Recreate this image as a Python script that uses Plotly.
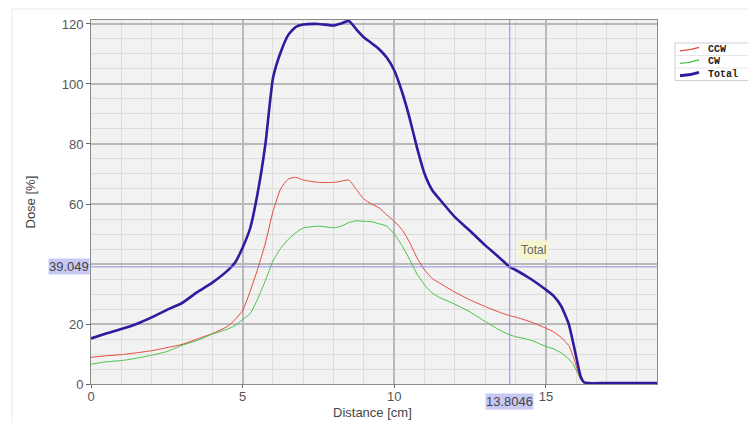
import plotly.graph_objects as go

# Depth profile sampled along the distance axis [cm]
distance = [0, 0.5, 1, 1.5, 2, 2.5, 3, 3.5, 4, 4.5, 4.75, 5, 5.25, 5.5, 5.75,
            6, 6.25, 6.5, 6.75, 7, 7.5, 8, 8.25, 8.5, 8.75, 9, 9.25, 9.5, 9.75,
            10, 10.25, 10.5, 10.75, 11, 11.25, 11.5, 12, 12.5, 13, 13.5, 13.8,
            14, 14.5, 15, 15.25, 15.5, 15.75, 15.9, 16.05, 16.15, 16.25, 16.4,
            17, 18, 18.66]

dose_total = [15.2, 16.8, 18.3, 20.0, 22.2, 24.7, 27.0, 30.6, 33.8, 37.8, 40.5,
              45.5, 52.0, 64.0, 80.0, 102.0, 110.5, 116.3, 119.0, 119.8, 120.0,
              119.5, 120.2, 121.0, 118.2, 115.5, 113.6, 111.6, 108.8, 104.5,
              97.5, 88.8, 78.7, 70.0, 64.6, 61.5, 55.6, 51.0, 46.2, 41.8, 39.0,
              38.0, 35.0, 31.4, 29.4, 26.0, 20.0, 13.6, 6.5, 2.3, 0.6, 0.3,
              0.3, 0.3, 0.3]

dose_ccw = [8.9, 9.4, 9.8, 10.4, 11.1, 12.1, 13.2, 15.0, 16.8, 19.2, 21.5,
            24.5, 31.0, 38.5, 47.0, 57.5, 65.0, 68.3, 68.9, 68.0, 67.2, 67.2,
            67.6, 68.0, 64.8, 61.6, 60.0, 58.7, 56.4, 54.2, 51.5, 47.3, 42.0,
            38.0, 35.2, 33.6, 30.6, 28.0, 25.8, 23.8, 22.8, 22.3, 20.7, 18.6,
            17.4, 15.5, 12.8, 9.1, 4.2, 1.5, 0.5, 0.3, 0.3, 0.3, 0.3]

dose_cw = [6.6, 7.4, 7.8, 8.6, 9.6, 10.8, 12.9, 14.5, 16.6, 18.3, 19.5, 21.5,
           23.5, 28.5, 34.5, 41.0, 45.2, 48.2, 50.4, 52.0, 52.6, 52.1, 52.6,
           53.8, 54.4, 54.2, 54.1, 53.4, 52.6, 50.0, 46.2, 41.6, 36.6, 33.0,
           30.3, 28.8, 26.6, 24.0, 20.8, 17.8, 16.4, 15.8, 14.6, 12.5, 11.7,
           10.4, 8.4, 6.5, 3.5, 1.3, 0.5, 0.3, 0.3, 0.3, 0.3]

series_names = ["CCW", "CW", "Total"]
series_colors = ["#e5483c", "#46c146", "#34189e"]
series_widths = [1, 1, 2.6]

# Cursor readout
cursor_x = 13.8046
cursor_y = 39.049
cursor_series = "Total"

x_ticks = [0, 5, 10, 15]
y_ticks = [0, 20, 40, 60, 80, 100, 120]
y_tick_text = ["0", "20", "", "60", "80", "100", "120"]  # 40 sits under the cursor readout

W, H = 748, 423
ML, MR, MT, MB = 91, 91, 20, 39
PW, PH = W - ML - MR, H - MT - MB


def px(xp):
    return (xp - ML) / PW


def py(yp):
    return (H - MB - yp) / PH


fig = go.Figure()
for name, values, color, width in zip(series_names, [dose_ccw, dose_cw, dose_total],
                                      series_colors, series_widths):
    fig.add_trace(go.Scatter(x=distance, y=values, name=name, mode="lines",
                             line=dict(color=color, width=width, shape="spline", smoothing=0.5)))

# crosshair
fig.add_shape(type="line", xref="x", yref="paper", x0=cursor_x, x1=cursor_x, y0=0, y1=1,
              line=dict(color="#8f8fe8", width=1))
fig.add_shape(type="line", xref="paper", yref="y", x0=0, x1=1, y0=cursor_y, y1=cursor_y,
              line=dict(color="#8f8fe8", width=1))

# light outer frame
fig.add_shape(type="rect", xref="paper", yref="paper", x0=px(12), x1=px(760), y0=py(440), y1=py(9),
              line=dict(color="#e8e8e8", width=1), layer="below")

readout_font = dict(family="Liberation Sans", size=13, color="#444")
fig.add_annotation(x=0, xref="paper", y=cursor_y, yref="y", text=f"{cursor_y:.3f}",
                   showarrow=False, xanchor="right", xshift=-1, bgcolor="#c8c8f5",
                   font=readout_font, borderpad=0)
fig.add_annotation(x=cursor_x, xref="x", y=0, yref="paper", text=f"{cursor_x:.4f}",
                   showarrow=False, yanchor="top", yshift=-9, bgcolor="#c8c8f5",
                   font=readout_font, borderpad=0)
fig.add_annotation(x=14.6, y=44.8, text=cursor_series, showarrow=False,
                   bgcolor="#f6f6cc", font=dict(family="Liberation Sans", size=12, color="#666"),
                   borderpad=2)

# axis titles
fig.add_annotation(x=px(20), xref="paper", y=0.5, yref="paper", text="Dose [%]",
                   textangle=-90, showarrow=False,
                   font=dict(family="Liberation Sans", size=13, color="#444"))
fig.add_annotation(x=px(372), xref="paper", y=py(412), yref="paper", text="Distance [cm]",
                   yanchor="middle", showarrow=False,
                   font=dict(family="Liberation Sans", size=13, color="#444"))

# legend table
leg_left, leg_right, leg_top, leg_bottom = 675, 760, 43, 80.5
fig.add_shape(type="rect", xref="paper", yref="paper",
              x0=px(leg_left), x1=px(leg_right), y0=py(leg_bottom), y1=py(leg_top),
              line=dict(color="#d0d0d0", width=1), fillcolor="white")
row_centers = [49.3, 61.8, 74.3]
for sep in [55.5, 68]:
    fig.add_shape(type="line", xref="paper", yref="paper",
                  x0=px(leg_left), x1=px(leg_right), y0=py(sep), y1=py(sep),
                  line=dict(color="#e6e6e6", width=1))
for name, color, width, yc in zip(series_names, series_colors, series_widths, row_centers):
    fig.add_shape(type="path", xref="paper", yref="paper",
                  path=(f"M {px(680)},{py(yc + 1.5)} Q {px(690)},{py(yc + 1)} "
                        f"{px(699)},{py(yc - 2)}"),
                  line=dict(color=color, width=width + 0.3))
    fig.add_annotation(x=px(707), xref="paper", y=py(yc), yref="paper", text=f"<b>{name}</b>",
                       xanchor="left", yanchor="middle", showarrow=False, borderpad=0,
                       font=dict(family="Liberation Mono", size=10, color="#222"))

axis_common = dict(showgrid=True, gridcolor="#b9b9b9", gridwidth=1.5,
                   showline=True, linecolor="#8a8a8a", linewidth=1, mirror=True,
                   ticks="outside", tickcolor="#666",
                   tickfont=dict(family="Liberation Sans", size=13, color="#555"),
                   zeroline=False,
                   minor=dict(showgrid=True, gridcolor="#dddddd", gridwidth=1))

fig.update_xaxes(range=[0, 18.66], tickvals=x_ticks, minor_dtick=1, ticklen=3,
                 ticklabelstandoff=-3, **axis_common)
fig.update_yaxes(range=[0, 121.33], tickvals=y_ticks, ticktext=y_tick_text, minor_dtick=5,
                 ticklen=4, **axis_common)

fig.update_layout(
    width=W, height=H,
    margin=dict(l=ML, r=MR, t=MT, b=MB, autoexpand=False),
    paper_bgcolor="white", plot_bgcolor="#f2f2f2",
    showlegend=False,
)

fig.write_html("out.html")
